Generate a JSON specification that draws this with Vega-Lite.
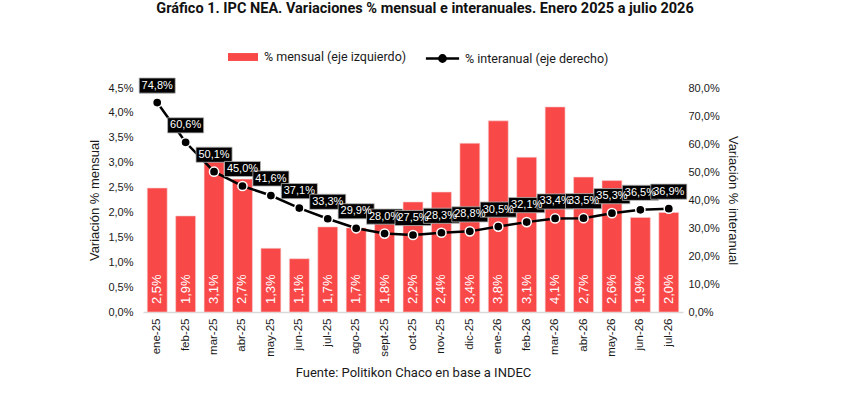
{
  "$schema": "https://vega.github.io/schema/vega-lite/v6.json",
  "width": 540,
  "height": 224,
  "autosize": {"type": "none"},
  "padding": {"left": 143, "top": 88, "right": 184, "bottom": 92},
  "background": "white",
  "title": {
    "text": "Gráfico 1. IPC NEA. Variaciones % mensual e interanuales. Enero 2025 a julio 2026",
    "font": "Roboto",
    "fontSize": 14.5,
    "fontWeight": "bold",
    "color": "#111111",
    "anchor": "middle",
    "frame": "group",
    "dx": 12,
    "offset": 25
  },
  "config": {
    "locale": {"number": {"decimal": ",", "thousands": ".", "grouping": [3], "currency": ["$", ""]}},
    "view": {"stroke": null},
    "axis": {
      "grid": false,
      "ticks": false,
      "labelOverlap": false,
      "labelFont": "Liberation Sans",
      "labelFontSize": 11,
      "labelColor": "#1a1a1a",
      "titleFont": "Liberation Sans",
      "titleFontSize": 13,
      "titleFontWeight": "normal",
      "titleColor": "#1a1a1a"
    },
    "legend": {
      "title": null,
      "orient": "none",
      "direction": "horizontal",
      "labelFont": "Roboto",
      "labelFontSize": 12.5,
      "labelColor": "#1a1a1a",
      "labelOffset": 5,
      "symbolSize": 1000,
      "symbolOpacity": 1
    }
  },
  "data": {
    "values": [
      {"mes": "ene-25", "mensual": 0.0249, "interanual": 0.748},
      {"mes": "feb-25", "mensual": 0.0193, "interanual": 0.606},
      {"mes": "mar-25", "mensual": 0.0306, "interanual": 0.501},
      {"mes": "abr-25", "mensual": 0.0267, "interanual": 0.450},
      {"mes": "may-25", "mensual": 0.0128, "interanual": 0.416},
      {"mes": "jun-25", "mensual": 0.0107, "interanual": 0.371},
      {"mes": "jul-25", "mensual": 0.0171, "interanual": 0.333},
      {"mes": "ago-25", "mensual": 0.0169, "interanual": 0.299},
      {"mes": "sept-25", "mensual": 0.0179, "interanual": 0.280},
      {"mes": "oct-25", "mensual": 0.0221, "interanual": 0.275},
      {"mes": "nov-25", "mensual": 0.0241, "interanual": 0.283},
      {"mes": "dic-25", "mensual": 0.0339, "interanual": 0.288},
      {"mes": "ene-26", "mensual": 0.0384, "interanual": 0.305},
      {"mes": "feb-26", "mensual": 0.0311, "interanual": 0.321},
      {"mes": "mar-26", "mensual": 0.0412, "interanual": 0.334},
      {"mes": "abr-26", "mensual": 0.0271, "interanual": 0.335},
      {"mes": "may-26", "mensual": 0.0264, "interanual": 0.353},
      {"mes": "jun-26", "mensual": 0.0190, "interanual": 0.365},
      {"mes": "jul-26", "mensual": 0.0200, "interanual": 0.369}
    ]
  },
  "encoding": {
    "x": {
      "field": "mes",
      "type": "nominal",
      "sort": null,
      "scale": {"paddingInner": 0.3, "paddingOuter": 0.15},
      "axis": {
        "title": "Fuente: Politikon Chaco en base a INDEC",
        "titleFont": "Roboto",
        "titleFontSize": 13,
        "titlePadding": 10,
        "labelAngle": -90,
        "labelPadding": 6,
        "labelFontSize": 11.5,
        "domainColor": "#d9d9d9",
        "domainWidth": 1.5
      }
    }
  },
  "layer": [
    {
      "layer": [
        {
          "mark": {"type": "bar", "stroke": "#f6d0d0", "strokeWidth": 0.6},
          "encoding": {
            "y": {
              "field": "mensual",
              "type": "quantitative",
              "scale": {"domain": [0, 0.045], "nice": false},
              "axis": {
                "orient": "left",
                "title": "Variación % mensual",
                "format": ".1%",
                "values": [0, 0.005, 0.01, 0.015, 0.02, 0.025, 0.03, 0.035, 0.04, 0.045],
                "labelOverlap": false,
                "tickCount": 10,
                "domain": false,
                "labelPadding": 10,
                "titlePadding": 6
              }
            },
            "fill": {
              "datum": "% mensual (eje izquierdo)",
              "type": "nominal",
              "scale": {"domain": ["% mensual (eje izquierdo)"], "range": ["#F94848"]},
              "legend": {
                "legendX": 84,
                "legendY": -47,
                "symbolType": "M-0.95,-0.25H0.95V0.25H-0.95Z",
                "symbolStrokeWidth": 0
              }
            }
          }
        },
        {
          "mark": {"type": "text", "angle": 270, "align": "left", "baseline": "middle", "dx": 8, "color": "white", "font": "Liberation Sans", "fontSize": 13},
          "encoding": {
            "y": {"datum": 0, "type": "quantitative"},
            "text": {"field": "mensual", "type": "quantitative", "format": ".1%"}
          }
        }
      ]
    },
    {
      "layer": [
        {
          "mark": {"type": "line", "strokeWidth": 2.5},
          "encoding": {
            "y": {
              "field": "interanual",
              "type": "quantitative",
              "scale": {"domain": [0, 0.8], "nice": false},
              "axis": {
                "orient": "right",
                "title": "Variación % interanual",
                "format": ".1%",
                "values": [0, 0.1, 0.2, 0.3, 0.4, 0.5, 0.6, 0.7, 0.8],
                "labelOverlap": false,
                "tickCount": 9,
                "domain": false,
                "labelPadding": 5,
                "titlePadding": 6
              }
            },
            "stroke": {
              "datum": "% interanual (eje derecho)",
              "type": "nominal",
              "scale": {"domain": ["% interanual (eje derecho)"], "range": ["#000000"]},
              "legend": {
                "legendX": 282,
                "legendY": -47,
                "symbolType": "M-1.05,0H1.05M-0.2,0A0.2,0.2 0 1,1 0.2,0A0.2,0.2 0 1,1 -0.2,0Z",
                "symbolStrokeWidth": 2.5,
                "symbolFillColor": "#000000"
              }
            }
          }
        },
        {
          "mark": {"type": "point", "filled": true, "fill": "black", "stroke": "white", "strokeWidth": 1.5, "size": 85, "opacity": 1},
          "encoding": {"y": {"field": "interanual", "type": "quantitative"}}
        },
        {
          "mark": {"type": "point", "filled": true, "shape": "M-1,-0.42H1V0.42H-1Z", "size": 1300, "fill": "black", "stroke": "#b5b5b5", "strokeWidth": 0.8, "opacity": 1, "yOffset": -17},
          "encoding": {"y": {"field": "interanual", "type": "quantitative"}}
        },
        {
          "mark": {"type": "text", "color": "white", "font": "Liberation Sans", "fontSize": 11, "baseline": "middle", "align": "center", "yOffset": -17},
          "encoding": {
            "y": {"field": "interanual", "type": "quantitative"},
            "text": {"field": "interanual", "type": "quantitative", "format": ".1%"}
          }
        }
      ]
    }
  ],
  "resolve": {"scale": {"y": "independent"}}
}
